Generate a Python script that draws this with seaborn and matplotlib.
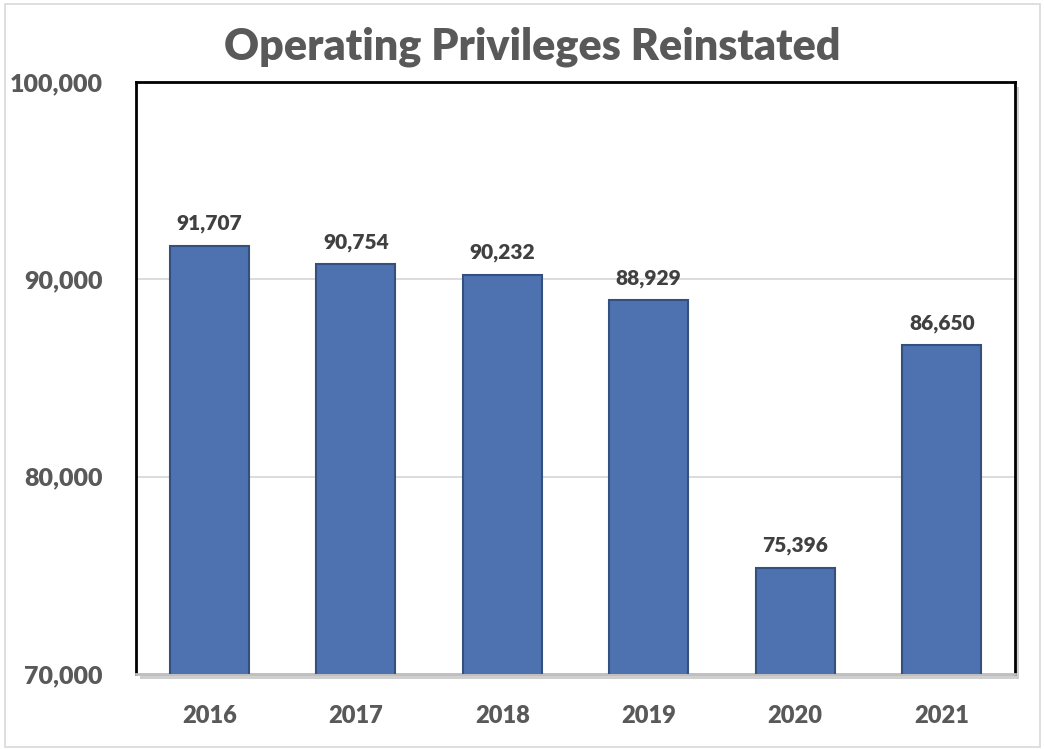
import matplotlib
matplotlib.use("Agg")
import matplotlib.pyplot as plt
from matplotlib.patches import Rectangle
import seaborn as sns
import pandas as pd

years = ["2016", "2017", "2018", "2019", "2020", "2021"]
values = [91707, 90754, 90232, 88929, 75396, 86650]
y_ticks = [70000, 80000, 90000, 100000]
title = "Operating Privileges Reinstated"

sns.set_theme(style="white")
plt.rcParams["font.family"] = ["Lato", "DejaVu Sans"]

df = pd.DataFrame({"year": years, "value": values})

fig = plt.figure(figsize=(10.44, 7.49), dpi=100)
W, H = 1044, 749
ax = fig.add_axes([136 / W, 1 - 674 / H, (1015 - 136) / W, (674 - 82) / H])
ax.set_zorder(2)

# outer border
fig.patches.append(Rectangle((5 / W, 2 / H), 1035 / W, 743 / H, transform=fig.transFigure,
                             fill=False, edgecolor="#D9D9D9", linewidth=1.2, zorder=0))
# plot area shadow
fig.patches.append(Rectangle((140 / W, 1 - 679 / H), (1015 - 136) / W, (674 - 82) / H,
                             transform=fig.transFigure, facecolor="#CFCFCF", edgecolor="none",
                             zorder=0))

sns.barplot(data=df, x="year", y="value", color="#4E71B0", width=0.54, ax=ax,
            edgecolor="#34507F", linewidth=1.5, saturation=1, zorder=3)

ax.set_ylim(70000, 100000)
ax.set_yticks(y_ticks)
ax.set_yticklabels([f"{v:,}" for v in y_ticks])
ax.yaxis.grid(True, color="#D9D9D9", linewidth=1.3, zorder=0)
ax.set_axisbelow(True)
ax.set_xlabel("")
ax.set_ylabel("")
ax.set_facecolor("white")

for s in ["left", "top", "right"]:
    ax.spines[s].set_color("black")
    ax.spines[s].set_linewidth(2)
    ax.spines[s].set_visible(True)
ax.spines["bottom"].set_color("#BFBFBF")
ax.spines["bottom"].set_linewidth(2)
ax.spines["bottom"].set_visible(True)

ax.tick_params(axis="y", labelsize=18, labelcolor="#595959", pad=24, length=0)
ax.tick_params(axis="x", labelsize=17, labelcolor="#595959", pad=22, length=0)
for lbl in ax.get_xticklabels() + ax.get_yticklabels():
    lbl.set_fontweight("heavy")

ax.bar_label(ax.containers[0], labels=[f"{v:,}" for v in values], padding=9,
             fontsize=15, fontweight="heavy", color="#404040")

fig.text(532 / W, 1 - 47 / H, title, ha="center", va="center", fontsize=31,
         fontweight="heavy", color="#595959")

fig.savefig("out.png", dpi=100, facecolor="white")
